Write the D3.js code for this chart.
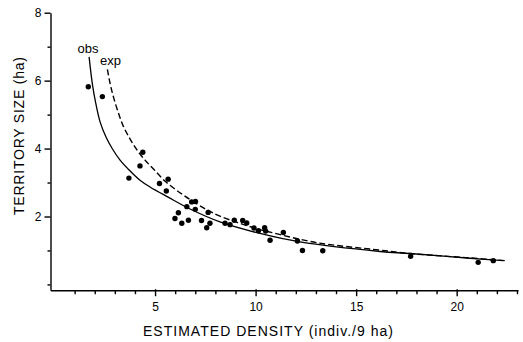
<!DOCTYPE html>
<html>
  <head>
    <script src="https://d3js.org/d3.v7.min.js"></script>
    <style>
      body { margin: 0; background: #fff; }
      svg { display: block; font-family: "Liberation Sans", Arial, sans-serif; }
      .axis path, .axis line { stroke: #000; stroke-width: 1.4; }
      .axis text { font-size: 12px; fill: #000; }
    </style>
  </head>
  <body>
    <script>
      // observed territories: density (indiv./9 ha) and territory size (ha)
      var density = [1.68, 2.38, 4.39, 4.25, 3.70, 5.22, 5.65, 5.56, 6.82, 7.01,
                     6.58, 7.00, 6.16, 7.64, 5.99, 6.33, 6.66, 7.31, 7.73, 7.57,
                     8.48, 8.73, 8.94, 9.36, 9.56, 9.92, 10.14, 10.45, 10.50, 10.72,
                     11.38, 12.08, 12.33, 13.34, 17.71, 21.07, 21.82];
      var territory = [5.82, 5.53, 3.89, 3.49, 3.13, 2.97, 3.10, 2.75, 2.43, 2.44,
                       2.29, 2.21, 2.11, 2.12, 1.94, 1.80, 1.89, 1.88, 1.80, 1.67,
                       1.80, 1.76, 1.89, 1.88, 1.81, 1.66, 1.58, 1.67, 1.57, 1.30,
                       1.53, 1.28, 1.00, 0.99, 0.83, 0.65, 0.70];

      // fitted curves
      var obsX = [1.72, 1.89, 2.07, 2.27, 2.56, 2.86, 3.26, 3.66, 4.25, 4.75,
                  5.65, 6.74, 8.23, 10.22, 12.21, 16.19, 17.68, 20.66, 22.30];
      var obsY = [6.70, 5.87, 5.28, 4.78, 4.34, 4.01, 3.66, 3.40, 3.07, 2.87,
                  2.57, 2.22, 1.84, 1.50, 1.25, 0.97, 0.91, 0.77, 0.70];
      var expX = [2.63, 2.76, 2.93, 3.16, 3.42, 3.76, 4.10, 4.50, 4.92, 5.50,
                  6.41, 7.57, 8.23, 9.89, 10.72, 13.04, 16.19, 17.68, 20.66, 22.40];
      var expY = [6.33, 5.93, 5.52, 5.08, 4.66, 4.28, 3.96, 3.66, 3.40, 3.04,
                  2.63, 2.20, 2.01, 1.67, 1.54, 1.23, 1.01, 0.91, 0.78, 0.70];

      var xTicks = d3.range(1, 24);
      var xLabels = [5, 10, 15, 20];
      var yTicks = d3.range(0, 9);
      var yLabels = [2, 4, 6, 8];

      var width = 523, height = 342;

      var x = d3.scaleLinear().domain([-0.2, 23.05]).range([50.5, 518]);
      var y = d3.scaleLinear().domain([-0.17, 8]).range([290.2, 12.7]);

      var svg = d3.select("body").append("svg")
          .attr("width", width)
          .attr("height", height);

      svg.append("rect").attr("width", width).attr("height", height).attr("fill", "#fff");

      // x axis
      var gx = svg.append("g")
          .attr("class", "axis")
          .attr("transform", "translate(0," + y(-0.17) + ")")
          .call(d3.axisBottom(x)
            .tickValues(xTicks)
            .tickSize(4)
            .tickSizeOuter(0)
            .tickPadding(8)
            .tickFormat(function(d) { return xLabels.indexOf(d) >= 0 ? d : ""; }));
      gx.selectAll(".tick")
          .filter(function(d) { return xLabels.indexOf(d) >= 0; })
          .select("line").attr("y1", -1).attr("y2", 6);

      // y axis
      var gy = svg.append("g")
          .attr("class", "axis")
          .attr("transform", "translate(" + x(-0.2) + ",0)")
          .call(d3.axisLeft(y)
            .tickValues(yTicks)
            .tickSize(3)
            .tickSizeOuter(0)
            .tickPadding(4)
            .tickFormat(function(d) { return yLabels.indexOf(d) >= 0 ? d : ""; }));
      gy.selectAll(".tick")
          .filter(function(d) { return yLabels.indexOf(d) >= 0; })
          .select("line").attr("x2", -6);
      gy.selectAll(".tick text").attr("x", -9);

      // curves
      var line = d3.line()
          .x(function(d) { return x(d[0]); })
          .y(function(d) { return y(d[1]); })
          .curve(d3.curveCatmullRom);

      svg.append("path")
          .datum(d3.zip(obsX, obsY))
          .attr("d", line)
          .attr("fill", "none")
          .attr("stroke", "#000")
          .attr("stroke-width", 1.3);

      svg.append("path")
          .datum(d3.zip(expX, expY))
          .attr("d", line)
          .attr("fill", "none")
          .attr("stroke", "#000")
          .attr("stroke-width", 1.4)
          .attr("stroke-dasharray", "6,3");

      // points
      svg.selectAll(".dot")
          .data(d3.zip(density, territory))
        .enter().append("circle")
          .attr("class", "dot")
          .attr("cx", function(d) { return x(d[0]); })
          .attr("cy", function(d) { return y(d[1]); })
          .attr("r", 2.7)
          .attr("fill", "#000");

      // curve labels
      svg.append("text")
          .attr("x", x(obsX[0]) - 1).attr("y", y(obsY[0]) - 4)
          .attr("text-anchor", "middle")
          .style("font-size", "13px")
          .text("obs");
      svg.append("text")
          .attr("x", x(expX[0]) + 3).attr("y", y(expY[0]) - 4)
          .attr("text-anchor", "middle")
          .style("font-size", "13px")
          .text("exp");

      // axis titles
      svg.append("text")
          .attr("x", 143).attr("y", 336)
          .attr("textLength", 250)
          .attr("lengthAdjust", "spacing")
          .style("font-size", "14px")
          .text("ESTIMATED  DENSITY  (indiv./9 ha)");

      svg.append("text")
          .attr("transform", "translate(24,215) rotate(-90)")
          .attr("textLength", 158)
          .attr("lengthAdjust", "spacing")
          .style("font-size", "14px")
          .text("TERRITORY  SIZE  (ha)");
    </script>
  </body>
</html>
